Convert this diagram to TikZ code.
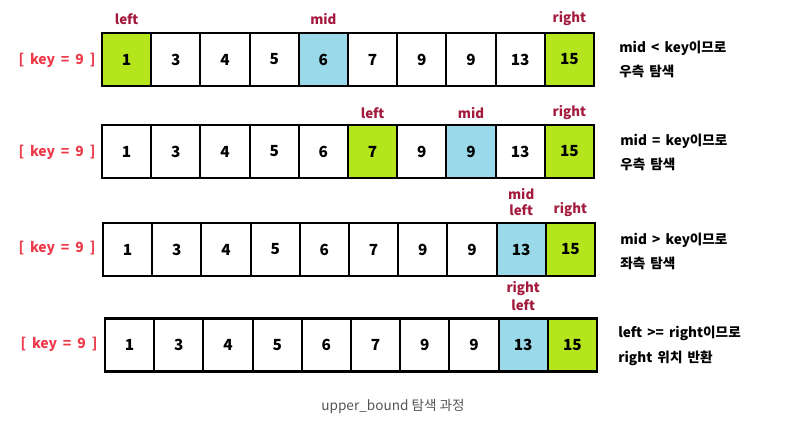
\documentclass[tikz,border=0pt]{standalone}
\usepackage{fontspec}
\setmainfont{Noto Sans CJK KR}
\definecolor{cgreen}{HTML}{B5E61D}
\definecolor{cblue}{HTML}{99D9EA}
\definecolor{lblred}{HTML}{A31A3C}
\definecolor{keyred}{HTML}{EE3B4B}
\definecolor{capgray}{HTML}{555555}
\begin{document}
\begin{tikzpicture}[x=0.75pt,y=-0.75pt,
  cell/.style={draw=black,line width=1.6pt,minimum width=49.2*0.75pt,minimum height=53*0.75pt,inner sep=0pt,font=\fontsize{11.5}{13}\selectfont\bfseries,anchor=center},
  cw/.style={fill=white},
  cg/.style={fill=cgreen},
  cb/.style={fill=cblue},
  ptr/.style={text=lblred,font=\fontsize{10}{12}\selectfont\bfseries,inner sep=0pt},
  keytxt/.style={text=keyred,font=\fontsize{10.5}{12}\selectfont\bfseries,inner sep=0pt,execute at begin node={\spaceskip=0.42em\relax}},
  note/.style={anchor=west,font=\fontsize{10.2}{12}\selectfont\bfseries,inner sep=0pt,execute at begin node={\spaceskip=0.38em\relax}},
  captxt/.style={text=capgray,font=\fontsize{10.2}{12}\selectfont,inner sep=0pt}]
\useasboundingbox (0,0) rectangle (785,429);
% row 1
\foreach \v/\f [count=\i] in {1/cg,3/cw,4/cw,5/cw,6/cb,7/cw,9/cw,9/cw,13/cw,15/cg}
  \node[cell,\f] (a\i) at ({102+49.2*(\i-0.5)},59.5) {\v};
\node[keytxt] (ka) at (57,60) {[ key = 9 ]};
\node[ptr] (aleft) at (126.6,19) {left};
\node[ptr] (amid) at (323.4,19) {mid};
\node[ptr] (aright) at (569.4,19) {right};
\node[note] (an1) at (619,48) {mid < key이므로};
\node[note] (an2) at (619,71) {우측 탐색};
% row 2
\foreach \v/\f [count=\i] in {1/cw,3/cw,4/cw,5/cw,6/cw,7/cg,9/cw,9/cb,13/cw,15/cg}
  \node[cell,\f] (b\i) at ({102+49.2*(\i-0.5)},151.5) {\v};
\node[keytxt] (kb) at (57,152) {[ key = 9 ]};
\node[ptr] (bleft) at (372.6,113) {left};
\node[ptr] (bmid) at (471,113) {mid};
\node[ptr] (bright) at (569.4,113) {right};
\node[note] (bn1) at (620,141) {mid = key이므로};
\node[note] (bn2) at (620,164) {우측 탐색};
% row 3
\foreach \v/\f [count=\i] in {1/cw,3/cw,4/cw,5/cw,6/cw,7/cw,9/cw,9/cw,13/cb,15/cg}
  \node[cell,\f] (c\i) at ({103+49.2*(\i-0.5)},249.5) {\v};
\node[keytxt] (kc) at (57,248) {[ key = 9 ]};
\node[ptr] (cmid) at (521.2,194) {mid};
\node[ptr] (cleft) at (521.2,210) {left};
\node[ptr] (cright) at (570.4,210) {right};
\node[note] (cn1) at (620,240) {mid > key이므로};
\node[note] (cn2) at (620,263) {좌측 탐색};
% row 4
\foreach \v/\f [count=\i] in {1/cw,3/cw,4/cw,5/cw,6/cw,7/cw,9/cw,9/cw,13/cb,15/cg}
  \node[cell,\f] (d\i) at ({105+49.2*(\i-0.5)},345) {\v};
\node[keytxt] (kd) at (59,344) {[ key = 9 ]};
\node[ptr] (dright) at (523.2,289) {right};
\node[ptr] (dleft) at (523.2,305) {left};
\node[note] (dn1) at (618,333) {left >= right이므로};
\node[note] (dn2) at (618,358) {right 위치 반환};
% caption
\node[captxt] (caption) at (393,406) {upper\_bound 탐색 과정};
\end{tikzpicture}
\end{document}
